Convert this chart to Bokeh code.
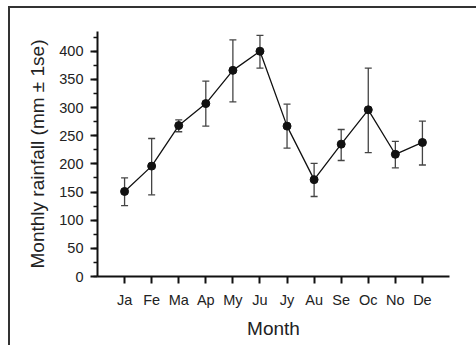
from bokeh.plotting import figure
from bokeh.models import ColumnDataSource, Whisker, TeeHead, FixedTicker, SingleIntervalTicker, Range1d
from bokeh.embed import file_html
from bokeh.resources import INLINE

months = ["Ja", "Fe", "Ma", "Ap", "My", "Ju", "Jy", "Au", "Se", "Oc", "No", "De"]
rainfall = [151, 196, 268, 307, 366, 400, 267, 172, 235, 296, 217, 238]
upper_se = [175, 245, 278, 347, 420, 428, 306, 201, 261, 370, 240, 276]
lower_se = [126, 145, 257, 267, 310, 370, 228, 142, 206, 220, 193, 198]

pos = list(range(1, len(months) + 1))
src = ColumnDataSource(dict(x=pos, y=rainfall, upper=upper_se, lower=lower_se))

p = figure(width=476, height=345, output_backend="svg", toolbar_location=None,
           x_range=Range1d(0, 13), y_range=Range1d(0, 435),
           min_border_left=97, min_border_right=27, min_border_top=31, min_border_bottom=69)
p.outline_line_color = None
p.grid.visible = False
p.background_fill_color = "white"
p.border_fill_color = None
p.styles = {
    "background": "linear-gradient(#333, #333) 8px 6px / 100% 2px no-repeat, "
                  "linear-gradient(#333, #333) 8px 6px / 2px 100% no-repeat, white",
}

w = Whisker(base="x", upper="upper", lower="lower", source=src,
            line_color="#444", line_width=1.3)
w.upper_head = TeeHead(size=7, line_color="#444", line_width=1.3)
w.lower_head = TeeHead(size=7, line_color="#444", line_width=1.3)
p.add_layout(w)

p.line("x", "y", source=src, line_color="#111", line_width=1.3)
p.scatter("x", "y", source=src, size=8, color="#111")

xa = p.xaxis[0]
xa.ticker = FixedTicker(ticks=pos)
xa.major_label_overrides = {i: m for i, m in zip(pos, months)}
ya = p.yaxis[0]
ya.ticker = SingleIntervalTicker(interval=50, num_minor_ticks=2)

for ax in (xa, ya):
    ax.axis_line_width = 2
    ax.axis_line_color = "#111"
    ax.major_tick_line_color = "#111"
    ax.major_tick_line_width = 2
    ax.major_tick_in = 0
    ax.major_tick_out = 7
    ax.minor_tick_in = 0
    ax.minor_tick_out = 4
    ax.minor_tick_line_width = 1.5
    ax.minor_tick_line_color = "#111" if ax is ya else None
    ax.major_label_text_font = "Liberation Sans"
    ax.major_label_text_font_size = "14.5px"
    ax.major_label_text_color = "#222"
    ax.axis_label_text_font = "Liberation Sans"
    ax.axis_label_text_font_size = "19px"
    ax.axis_label_text_font_style = "normal"
    ax.axis_label_text_color = "#222"

xa.axis_label = "Month"
xa.major_label_standoff = 8
xa.axis_label_standoff = 7
ya.axis_label = "Monthly rainfall (mm \u00b1 1se)"
ya.major_label_standoff = 7
ya.axis_label_standoff = 8

open("out.html", "w").write(file_html(p, INLINE))
